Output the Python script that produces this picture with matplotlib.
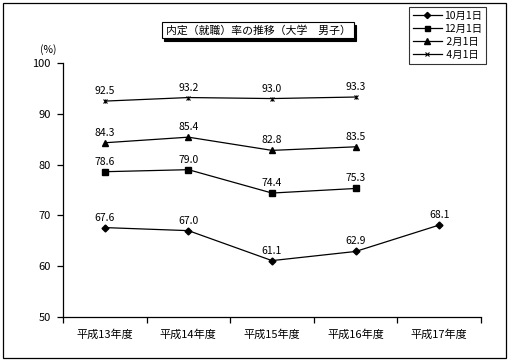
import numpy as np
import matplotlib
matplotlib.use("Agg")
import matplotlib.pyplot as plt
from matplotlib.patches import Rectangle

plt.rcParams['font.family'] = ['Noto Sans CJK JP', 'DejaVu Sans']

# データ
years = ['平成13年度', '平成14年度', '平成15年度', '平成16年度', '平成17年度']
series_names = ['10月1日', '12月1日', '2月1日', '4月1日']
oct1 = [67.6, 67.0, 61.1, 62.9, 68.1]
dec1 = [78.6, 79.0, 74.4, 75.3, np.nan]
feb1 = [84.3, 85.4, 82.8, 83.5, np.nan]
apr1 = [92.5, 93.2, 93.0, 93.3, np.nan]
y_ticks = [50, 60, 70, 80, 90, 100]
title = '内定（就職）率の推移（大学　男子）'

W, H = 510, 364
fig = plt.figure(figsize=(W / 100, H / 100), dpi=100)

def px(x0, y0, x1, y1):
    # pixel box -> figure fraction
    return x0 / W, 1 - y1 / H, (x1 - x0) / W, (y1 - y0) / H

# 外枠
l, b, w, h = px(3, 3, 506, 358)
fig.patches.append(Rectangle((l, b), w, h, transform=fig.transFigure,
                             fill=False, ec='black', lw=0.9))

ax = fig.add_axes(px(63, 63, 481, 317))
x = np.arange(len(years))

styles = [
    (oct1, dict(marker='D', ms=3.5)),
    (dec1, dict(marker='s', ms=4)),
    (feb1, dict(marker='^', ms=4.5)),
    (apr1, dict(marker='x', ms=3.5, mew=0.8)),
]
handles = []
for (vals, st), name in zip(styles, series_names):
    ln, = ax.plot(x, vals, color='black', lw=0.9, label=name, **st)
    handles.append(ln)
    for xi, v in zip(x, vals):
        if np.isnan(v):
            continue
        ax.annotate(f'{v:.1f}', (xi, v), xytext=(0, 5), textcoords='offset pixels',
                    ha='center', va='bottom', fontsize=7.5)
# 4月1日の縦線マーカー
ax.plot(x, apr1, ls='none', marker='|', ms=3, mew=0.8, color='black')

ax.set_xlim(-0.5, len(years) - 0.5)
ax.set_ylim(50, 100)
ax.set_yticks(y_ticks)
ax.set_xticks(x)
ax.set_xticklabels(years, fontsize=8)
ax.set_xticks(np.arange(-0.5, len(years)), minor=True)
ax.tick_params(axis='x', which='major', length=0, pad=9)
ax.tick_params(axis='x', which='minor', length=4, width=0.9, direction='out')
ax.tick_params(axis='y', length=4, width=0.9, direction='out', labelsize=8, pad=5)
for s in ['top', 'right']:
    ax.spines[s].set_visible(False)
for s in ['left', 'bottom']:
    ax.spines[s].set_linewidth(0.9)
fig.text(48 / W, 1 - 50 / H, '(%)', ha='center', va='center', fontsize=7.5)

# タイトル（影付きの枠）
l, b, w, h = px(162, 22, 354, 38)
fig.patches.append(Rectangle((l + 2.5 / W, b - 2.5 / H), w, h, transform=fig.transFigure,
                             fc='black', ec='black', lw=0.8))
fig.patches.append(Rectangle((l, b), w, h, transform=fig.transFigure,
                             fc='white', ec='black', lw=0.8))
fig.text(l + w / 2, b + h / 2, title, ha='center', va='center', fontsize=7.8)

# 凡例
leg = fig.legend(handles=handles, labels=[' ' * (len(n) < 5) + n for n in series_names],
                 loc='upper left', bbox_to_anchor=(409 / W, 1 - 7 / H), fontsize=7.5,
                 frameon=True, fancybox=False, edgecolor='black',
                 handlelength=2.8, handletextpad=0.2, labelspacing=0.3,
                 borderpad=0.35, borderaxespad=0, markerscale=0.9)
leg.get_frame().set_linewidth(0.8)

fig.savefig('out.png', dpi=100)
